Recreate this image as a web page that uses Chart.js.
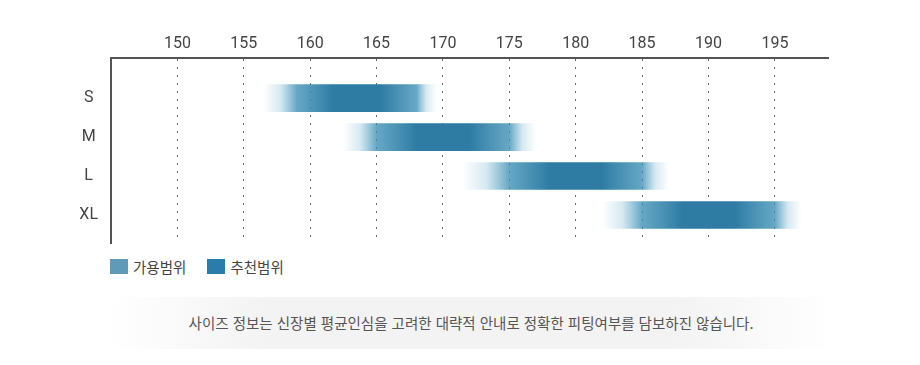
<!DOCTYPE html>
<html lang="ko">
<head>
<meta charset="utf-8">
<title>사이즈 가이드</title>
<script src="https://cdn.jsdelivr.net/npm/chart.js@4.4.1/dist/chart.umd.min.js"></script>
<style>
  html, body { margin: 0; padding: 0; background: #fff; }
  body {
    width: 920px;
    height: 365px;
    position: relative;
    overflow: hidden;
    font-family: Roboto, "Noto Sans CJK KR", sans-serif;
  }
  .chart-wrap { position: absolute; left: 0; top: 0; width: 920px; height: 250px; }
  .legend {
    position: absolute;
    left: 110px;
    top: 256px;
    display: flex;
    font-family: "Noto Sans CJK KR", sans-serif;
    font-size: 14.5px;
    color: #444;
  }
  .legend-item { display: flex; align-items: center; margin-right: 21px; }
  .swatch { width: 18px; height: 15px; margin-right: 5px; }
  .note {
    position: absolute;
    left: 108px;
    top: 297px;
    width: 726px;
    height: 52px;
    line-height: 52px;
    text-align: center;
    background: linear-gradient(to right, #fff 0%, #f3f3f3 22%, #f3f3f3 78%, #fff 100%);
    font-family: "Noto Sans CJK KR", sans-serif;
    font-size: 14.5px;
    color: #555;
  }
</style>
</head>
<body>
<div class="chart-wrap"><canvas id="sizeChart"></canvas></div>
<div class="legend" id="legend"></div>
<div class="note">사이즈 정보는 신장별 평균인심을 고려한 대략적 안내로 정확한 피팅여부를 담보하진 않습니다.</div>

<script>
// tailles et plages de hauteur (cm)
const sizes = ["S", "M", "L", "XL"];
const availMin = [156.5, 162.5, 171.5, 182];
const availMax = [169.5, 177, 187, 197];
const recMin = [159, 165, 175, 185];
const recMax = [168, 175, 185, 195];
const heightTicks = [150, 155, 160, 165, 170, 175, 180, 185, 190, 195];

const legendLabels = ["가용범위", "추천범위"];
const legendColors = ["#5f9bb9", "#2a7dab"];

const CORE_COLOR = "rgb(46, 124, 164)";

const clamp = (v) => Math.min(1, Math.max(0, v));

// dégradé : bords transparents, coeur foncé sur la plage recommandée
function barGradient(context) {
  if (context.type !== "data") return CORE_COLOR;
  const chart = context.chart;
  const xScale = chart.scales.x;
  if (!chart.chartArea || !xScale) return CORE_COLOR;

  const i = context.dataIndex;
  const left = xScale.getPixelForValue(availMin[i]);
  const right = xScale.getPixelForValue(availMax[i]);
  const span = availMax[i] - availMin[i];
  const p0 = clamp((recMin[i] - availMin[i]) / span);
  const p1 = clamp((recMax[i] - availMin[i]) / span);
  const c0 = p0 + (p1 - p0) * 0.3;
  const c1 = p0 + (p1 - p0) * 0.7;

  const gradient = chart.ctx.createLinearGradient(left, 0, right, 0);
  gradient.addColorStop(0, "rgba(70, 155, 190, 0)");
  gradient.addColorStop(p0 * 0.5, "rgba(70, 155, 190, 0.22)");
  gradient.addColorStop(p0, "rgba(60, 142, 180, 0.78)");
  gradient.addColorStop(c0, CORE_COLOR);
  gradient.addColorStop(c1, CORE_COLOR);
  gradient.addColorStop(p1, "rgba(60, 142, 180, 0.78)");
  gradient.addColorStop(p1 + (1 - p1) * 0.5, "rgba(70, 155, 190, 0.22)");
  gradient.addColorStop(1, "rgba(70, 155, 190, 0)");
  return gradient;
}

const legend = document.querySelector("#legend");
legendLabels.forEach((label, i) => {
  const item = document.createElement("div");
  item.className = "legend-item";
  const swatch = document.createElement("span");
  swatch.className = "swatch";
  swatch.style.background = legendColors[i];
  const text = document.createElement("span");
  text.textContent = label;
  item.append(swatch, text);
  legend.append(item);
});

new Chart(document.querySelector("#sizeChart"), {
  type: "bar",
  data: {
    datasets: [
      {
        label: legendLabels[0],
        data: sizes.map((_, i) => ({ x: [availMin[i], availMax[i]], y: i })),
        backgroundColor: barGradient,
        borderWidth: 0,
        barThickness: 27
      }
    ]
  },
  options: {
    indexAxis: "y",
    responsive: true,
    maintainAspectRatio: false,
    animation: false,
    layout: { padding: { top: 0, right: 92, bottom: 7, left: 0 } },
    plugins: {
      legend: { display: false },
      tooltip: { enabled: false }
    },
    scales: {
      x: {
        type: "linear",
        position: "top",
        min: 145,
        max: 199,
        afterBuildTicks: (axis) => {
          axis.ticks = heightTicks.map((value) => ({ value }));
        },
        afterFit: (axis) => {
          axis.height = 58;
        },
        grid: { color: "#666", lineWidth: 1, drawTicks: false },
        border: { display: true, color: "#555", width: 2, dash: [2, 6] },
        ticks: {
          color: "#444",
          padding: 4,
          font: { family: "Roboto", size: 16 }
        }
      },
      y: {
        type: "linear",
        offset: false,
        reverse: true,
        min: -1.03,
        max: 3.72,
        afterBuildTicks: (axis) => {
          axis.ticks = sizes.map((_, i) => ({ value: i }));
        },
        afterFit: (axis) => {
          axis.width = 111;
          axis.paddingTop = 0;
          axis.paddingBottom = 0;
        },
        grid: { display: false, drawTicks: false },
        border: { display: true, color: "#555", width: 2 },
        ticks: {
          color: "#444",
          padding: 13,
          crossAlign: "center",
          font: { family: "Roboto", size: 16 },
          callback: (value) => sizes[value] ?? ""
        }
      }
    }
  }
});
</script>
</body>
</html>
